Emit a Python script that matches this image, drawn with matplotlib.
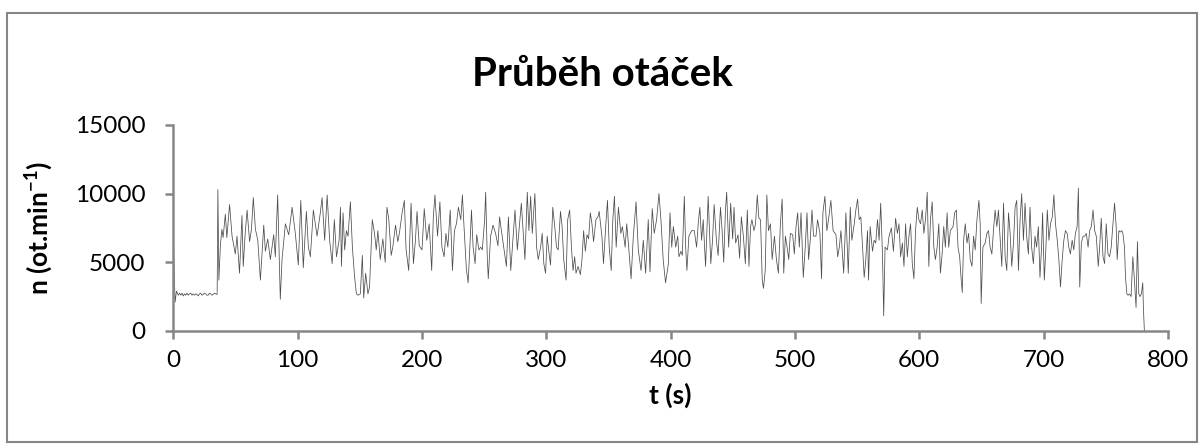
import matplotlib
matplotlib.use("Agg")
import matplotlib.pyplot as plt
from matplotlib.patches import Rectangle

plt.rcParams['font.family'] = ['Lato', 'DejaVu Sans']
plt.rcParams['mathtext.fontset'] = 'custom'
plt.rcParams['mathtext.bf'] = 'Lato:bold'
plt.rcParams['mathtext.rm'] = 'Lato:bold'

# hodnoty: (t [s], n [ot/min])
# rozjezd a volnobeh
seg_a = [(0, 6600), (0.6, 4500), (1.4, 2100), (2.5, 2900), (4, 2600), (5, 2750), (6, 2600),
         (7, 2750), (8, 2550), (9, 2700), (10, 2600), (11, 2750), (12, 2600), (13, 2700),
         (14, 2750), (15, 2600), (16, 2700), (17, 2600), (18, 2700), (19, 2650), (20, 2550),
         (21, 2700), (22, 2750), (23, 2600), (24, 2650), (25, 2750), (26, 2700), (27, 2600),
         (28, 2600), (29, 2750), (30, 2700), (31, 2600), (32, 2650), (33, 2750), (34, 2700),
         (35.2, 2650), (35.8, 10300), (36.6, 3700), (37.8, 6200), (39, 7400), (40, 6800),
         (41.8, 8500), (43, 6800), (45.2, 9200), (47.2, 6900), (49.8, 5600), (51.2, 6900),
         (53.2, 4200), (55.2, 8400), (56.2, 4700), (57.7, 7000), (59.3, 8800), (61.3, 6500),
         (62.8, 7400), (64.3, 9700), (66, 7400), (67.9, 6600), (70, 3700), (72.7, 7700),
         (74, 5800), (75.9, 6700), (78, 5200), (80.7, 7000), (82, 5400), (83.9, 9900),
         (86, 2300), (87.4, 5200), (90.1, 7800), (92.8, 7000), (95.5, 9000), (98.1, 7100),
         (100.5, 4800), (102.5, 9500), (104.5, 4600), (107, 8700), (108.6, 6100), (110.2, 5400),
         (112.6, 8800), (115.6, 6900), (118.2, 8600), (119.6, 9700), (121.7, 6600), (123.7, 9900),
         (125.7, 6600), (127.7, 4900), (129.5, 8100)]

seg_b = [(131.2, 5400), (133.3, 6600), (134.4, 9000), (135.2, 4700), (136.5, 8600), (137.8, 5900),
         (139.2, 7300), (140.5, 6900), (142.4, 9400), (144, 6100), (145.8, 3900), (147.2, 2700),
         (148.5, 2600), (150.4, 2700), (152, 5500), (153.1, 2400), (154.7, 4200), (156.5, 2700),
         (157.8, 3200), (160, 8100), (161.8, 7100), (163.2, 5900), (164.5, 7300), (166.4, 5200),
         (168.5, 6700), (170.4, 5000), (171.8, 9000), (173.3, 8100), (175.2, 5500), (176.5, 6100),
         (178.7, 7700), (180.5, 6500), (181.8, 7100), (184, 8600), (185.8, 9500), (187.2, 5900),
         (189.3, 4400), (191.2, 9300), (193.1, 4900), (194.7, 6600), (196, 8700), (197.8, 6200),
         (200, 5900), (201.8, 8900), (203.8, 6600), (205.8, 7800), (207.8, 4400), (209.1, 8300),
         (210.4, 9900), (212.5, 6900), (214.4, 9400), (216, 6100), (217.8, 5400), (219.2, 7100),
         (220.8, 6100), (222.7, 8800), (224.5, 4400), (226.1, 7300), (227.7, 7800), (229.3, 9000),
         (231.2, 8100), (232.5, 9900), (233.8, 7600), (235.7, 4500), (237.1, 3500), (238.4, 5900),
         (239.8, 8800), (241.1, 6100), (242.7, 4900), (244, 7000), (245.8, 5900), (247.2, 6100),
         (248.5, 5900), (250.4, 8100), (251.2, 10100), (252.5, 5400), (253.3, 3800), (255.2, 6900),
         (257.1, 7700), (259.2, 7100), (261.1, 6200), (262.4, 8300), (264.5, 6900)]

seg_c = [(267.9, 4700), (269.5, 8300), (271.4, 4400), (272.7, 6100), (274.8, 8800), (276.7, 5900),
         (278, 7300), (279.9, 9300), (281.5, 7000), (282.8, 5200), (284.7, 10100), (286, 7300),
         (287.4, 9800), (288.7, 7100), (290.8, 10000), (292.2, 6100), (293.5, 5200), (295.4, 6100),
         (296.7, 7100), (298, 4900), (299.4, 4200), (300.7, 6900), (302, 5800), (303.4, 4800),
         (305.2, 9000), (306.8, 7600), (308.2, 6100), (309.5, 5900), (311.4, 8700), (312.7, 7600),
         (314, 5200), (315.9, 3700), (317.2, 8100), (318.8, 8800), (320.2, 6100), (321.5, 4400),
         (322.8, 5400), (323.9, 4200), (325.5, 4700), (327.4, 4100), (328.7, 5200), (330, 7300),
         (331.4, 5800), (332.7, 7000), (334, 6700), (335.4, 8600), (336.7, 7800), (338, 6500),
         (339.9, 8100), (341.5, 8300), (342.5, 8700), (344.7, 6900), (346, 4900), (347.9, 7800),
         (349.2, 9500), (350.6, 6100), (352.2, 4400), (353.5, 8100), (354.8, 9800), (356.2, 6100),
         (358, 9000), (359.9, 7100), (361.2, 7600), (363.4, 6100), (364.7, 7800), (366, 6400),
         (368.2, 3800), (370, 6900), (372.2, 9400), (374, 5900), (376.2, 4400), (378, 6600),
         (379.9, 4200), (382, 8100), (383.4, 4300), (385.2, 8900), (386.8, 7100), (388.7, 8100),
         (390.6, 10000), (392.2, 8100), (394, 5200), (395.9, 3500)]

seg_d = [(398.2, 4900), (399.5, 8600), (400.9, 6100), (402.2, 7600), (404.1, 6100), (405.7, 6900),
         (406.7, 5400), (408.3, 5800), (409.4, 5500), (411, 9800), (412.1, 6100), (413.1, 4400),
         (414.7, 6900), (416.9, 7300), (419, 7300), (420.9, 6100), (422.2, 7800), (423.5, 9000),
         (424.9, 6600), (426.2, 8100), (428.1, 4700), (430.2, 9800), (432.3, 4900), (433.7, 6600),
         (435, 9200), (436.9, 6500), (438.2, 5500), (440.1, 9000), (441.4, 7300), (442.7, 5000),
         (444.1, 8800), (445.1, 10100), (446.7, 6100), (448.3, 9300), (449.9, 6700), (451, 9000),
         (452.3, 6400), (454.2, 7000), (455.5, 5300), (456.9, 8300), (458.5, 6900), (460.1, 4900),
         (461.7, 8800), (463, 4700), (464.3, 7600), (465.4, 8100), (467, 7300), (468.3, 7800),
         (469.7, 9900), (471, 8200), (472.3, 8100), (473.7, 3700), (474.7, 3100), (476.1, 4400),
         (477.4, 9900), (478.7, 7300), (480.3, 7800), (481.7, 5200), (483.5, 6900), (485.1, 5200),
         (486.7, 4200), (488.3, 7800), (489.7, 9600), (491, 4200), (492.3, 6900), (493.7, 6100),
         (495, 5200), (496.3, 7100), (498.2, 7000), (499.5, 5600), (500.9, 7600), (502.2, 8600),
         (503.5, 6100), (504.9, 8600), (506.7, 3900), (508.3, 6100), (509.7, 8600), (511, 5200),
         (512.3, 6600), (513.7, 8800), (515, 6900), (516.9, 6900), (518.2, 8100), (520.1, 7100),
         (521.4, 3800), (522.5, 8600), (524.1, 9800), (525.7, 7300), (527, 8100), (528.9, 9500),
         (530.7, 7300)]

seg_e = [(533, 7000), (534.4, 5400), (535.7, 6100), (537, 7300), (539.2, 4200), (541, 8600),
         (542.9, 4200), (544.5, 9000), (545.8, 6600), (547.7, 7800), (549, 8800), (550.4, 9600),
         (551.7, 8100), (553, 8300), (554.4, 6100), (555.7, 3900), (557, 5200), (558.4, 7300),
         (559.2, 3700), (560.5, 7600), (562.4, 5800), (563.7, 6600), (565, 6400), (566.4, 8100),
         (567.7, 6600), (569, 9300), (570.4, 5600), (571.4, 1100), (572.5, 6100), (574.4, 5900),
         (575.7, 6900), (577.6, 7500), (579.2, 5800), (581, 8200), (582.4, 7100), (583.7, 7800),
         (585, 5400), (586.4, 6400), (587.7, 4700), (589, 7800), (590.4, 5400), (591.7, 6900),
         (593, 7800), (594.4, 4900), (595.7, 3800), (597, 7300), (598.4, 9000), (599.7, 8100),
         (601, 7800), (602.4, 8800), (603.7, 7100), (605, 8100), (606.4, 10100), (607.7, 4700),
         (609, 8100), (610.4, 9400), (611.7, 6100), (613, 5200), (614.4, 6100), (615.7, 7800),
         (617, 4200), (618.4, 5600), (619.7, 7600), (621, 6100), (622.4, 8600), (623.7, 6100),
         (625, 7300), (627.2, 7600), (628.5, 8600), (629.8, 8800), (631.2, 6100), (632.5, 5400),
         (633.6, 3900), (634.6, 2800), (635.7, 6600), (637, 7800), (638.4, 6400), (639.7, 7100),
         (641, 5200), (642.4, 4700), (643.7, 6900), (645, 5900), (646.4, 8100), (648, 9500),
         (649, 7800), (649.8, 2000), (651.2, 6100), (653, 6400), (654.4, 7100), (655.7, 7300),
         (657, 6100), (658.4, 5600), (659.7, 7300), (661, 8800), (662.4, 7600), (663.7, 8800)]

# konec jizdy a dojezd
seg_f = [(666.4, 4700), (667.8, 9300), (669.1, 5400), (670.4, 4400), (671.8, 8600), (673.1, 7100),
         (674.4, 4700), (675.8, 6400), (677.1, 9000), (678.4, 9500), (679.8, 4400), (681.1, 8100),
         (682.4, 10000), (683.8, 6600), (685.1, 9300), (686.4, 6900), (687.8, 5600), (689.1, 9000),
         (690.4, 6100), (691.8, 4900), (693.1, 6900), (694.4, 6100), (695.8, 7600), (697.1, 3900),
         (698.4, 6100), (699.2, 8600), (700.6, 3700), (701.9, 6100), (703, 8800), (704.3, 6600),
         (705.6, 7800), (707, 8300), (708.3, 9900), (709.6, 7800), (711, 6600), (712.3, 5200),
         (713.6, 3200), (715, 5200), (716.3, 6600), (717.6, 7300), (719, 7100), (720.3, 6100),
         (721.6, 5600), (723, 6600), (724.3, 5900), (725.6, 7100), (727, 7600), (728, 10400),
         (729.1, 3200), (730.4, 6400), (731.8, 6900), (733.1, 6900), (734.4, 7100), (735.8, 6100),
         (737.1, 7300), (738.4, 7600), (739.8, 8800), (741.1, 7300), (742.4, 6900), (744, 4700),
         (745.1, 6100), (746.4, 8200), (747.8, 5400), (749.1, 4900), (750.4, 7800), (751.8, 5600),
         (753.1, 5400), (754.4, 6100), (755.8, 7800), (757.1, 9300), (758.4, 7600), (759.2, 5200),
         (760.6, 7300), (761.6, 7200), (763, 7300), (763.8, 7100), (765.1, 6100), (765.9, 3900),
         (767, 2700), (768, 2600), (769.1, 2700), (770.4, 2500), (771.8, 5400), (773.1, 3700),
         (774.4, 1700), (775.5, 6500), (776.6, 2700), (777.6, 2500), (778.7, 2700), (779.8, 3500),
         (780.3, 1700), (781.1, 0)]

data = seg_a + seg_b + seg_c + seg_d + seg_e + seg_f
t = [p[0] for p in data]
n = [p[1] for p in data]

seda = '#868686'

fig = plt.figure(figsize=(12.04, 4.46), dpi=100)
ax = fig.add_axes([0.144, 0.258, 0.826, 0.462])
ax.plot(t, n, color='#4d4d4d', linewidth=0.55)

ax.set_xlim(0, 800)
ax.set_ylim(0, 15000)
ax.set_xticks(range(0, 801, 100))
ax.set_yticks([0, 5000, 10000, 15000])
for s in ['top', 'right']:
    ax.spines[s].set_visible(False)
for s in ['left', 'bottom']:
    ax.spines[s].set_color(seda)
    ax.spines[s].set_linewidth(1.8)
ax.tick_params(direction='out', length=6, width=1.8, color=seda, labelsize=17.5)
ax.tick_params(axis='y', pad=14)
ax.tick_params(axis='x', pad=8)

ax.set_xlabel('t (s)', fontsize=19, fontweight='bold')
ax.set_ylabel(r'n (ot.min$^{\mathbf{-1}}$)', fontsize=19, fontweight='bold')
ax.xaxis.set_label_coords(0.5, -0.252)
ax.yaxis.set_label_coords(-0.119, 0.5)
fig.text(0.5, 0.832, 'Průběh otáček', ha='center', va='center', fontsize=29, fontweight='bold')

# ramecek kolem grafu
fig.patches.append(Rectangle((7 / 1204, 4 / 446), 1190 / 1204, 429 / 446, transform=fig.transFigure,
                             fill=False, edgecolor=seda, linewidth=1.5))

fig.savefig('out.png', dpi=100)
